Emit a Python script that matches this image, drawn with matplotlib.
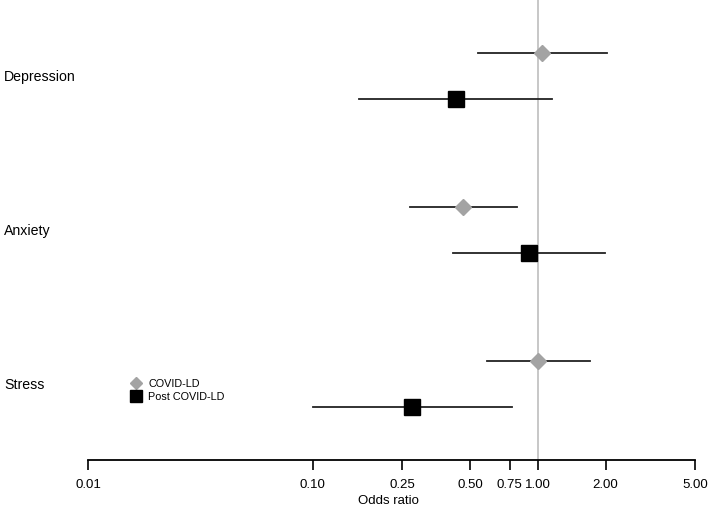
import numpy as np
import matplotlib
matplotlib.use("Agg")
import matplotlib.pyplot as plt
from matplotlib.lines import Line2D

plt.rcParams['font.family'] = ['Liberation Sans', 'DejaVu Sans']

# ======================
# DONNÉES (odds ratio + IC 95%)
# ======================
outcomes = ["Depression", "Anxiety", "Stress"]

covid_or = [1.04, 0.466, 1.00]
covid_lo = [0.54, 0.27, 0.595]
covid_hi = [2.03, 0.81, 1.70]

post_or = [0.435, 0.915, 0.277]
post_lo = [0.16, 0.42, 0.10]
post_hi = [1.16, 1.99, 0.77]

xticks = [0.01, 0.10, 0.25, 0.50, 0.75, 1.00, 2.00, 5.00]
xtick_labels = ["0.01", "0.10", "0.25", "0.50", "0.75", "1.00", "2.00", "5.00"]

W, H = 708, 508
fig = plt.figure(figsize=(W / 100, H / 100), dpi=100)
ax = fig.add_axes([88 / W, (H - 460) / H, (695 - 88) / W, 460 / H])

ax.set_xscale("log")
ax.set_xlim(0.01, 5.0)
ax.set_ylim(2.494, -0.494)

off = 0.149
ypos = np.arange(len(outcomes))

ax.axvline(1.0, color="#bdbdbd", lw=1.2, zorder=1)

for i in range(len(outcomes)):
    y1 = ypos[i] - off
    y2 = ypos[i] + off
    ax.plot([covid_lo[i], covid_hi[i]], [y1, y1], color="#222222", lw=1.3, zorder=2)
    ax.plot([post_lo[i], post_hi[i]], [y2, y2], color="#222222", lw=1.3, zorder=2)
ax.plot(covid_or, ypos - off, ls="none", marker="D", ms=8, color="#a3a3a3", zorder=3)
ax.plot(post_or, ypos + off, ls="none", marker="s", ms=11.5, color="black", zorder=3)

for i, name in enumerate(outcomes):
    fig.text(4 / W, 1 - (77 + 154 * i) / H, name, fontsize=10.2, va="center", ha="left")

for s in ["top", "right", "left"]:
    ax.spines[s].set_visible(False)
ax.spines["bottom"].set_linewidth(1.3)
ax.yaxis.set_visible(False)
ax.set_xticks(xticks)
ax.set_xticklabels(xtick_labels)
ax.minorticks_off()
ax.tick_params(axis="x", direction="out", length=7, width=1.2, labelsize=9.5, pad=7)
fig.text((88 + 695) / 2 / W - 0.005, 1 - 501 / H, "Odds ratio", fontsize=9.5,
         ha="center", va="center")

handles = [
    Line2D([], [], ls="none", marker="D", ms=6, color="#a3a3a3"),
    Line2D([], [], ls="none", marker="s", ms=8, color="black"),
]
fig.legend(handles, ["COVID-LD", "Post COVID-LD"], loc="upper left",
           bbox_to_anchor=(131 / W, 1 - 379 / H), frameon=False,
           handlelength=1.0, handletextpad=0.6, labelspacing=0.3,
           borderpad=0, borderaxespad=0, prop={"size": 7.8})

fig.savefig("out.png", dpi=100)
